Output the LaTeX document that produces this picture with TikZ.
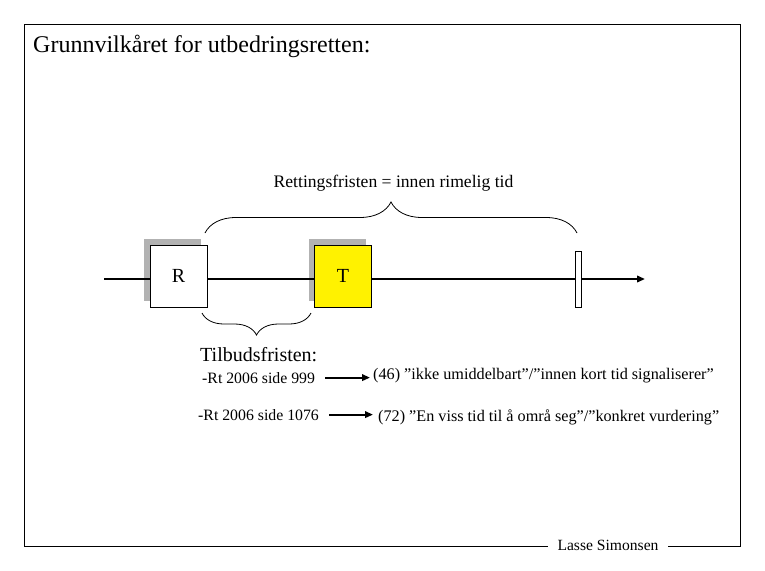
\documentclass[tikz,border=0pt]{standalone}
\usepackage{fontspec}
\setmainfont{Liberation Serif}
\usetikzlibrary{positioning,arrows.meta,decorations.pathreplacing}

\begin{document}
\begin{tikzpicture}[x=1pt, y=-1pt,
txt/.style={inner sep=0pt, anchor=base west},
box/.style={draw=black, line width=0.8pt, minimum width=57pt, minimum height=62pt, inner sep=0pt, font=\fontsize{20}{24}\selectfont},
shadow/.style={fill=black, fill opacity=0.3, minimum width=57pt, minimum height=62pt, inner sep=0pt},
arrow/.style={-{Triangle[length=8pt, width=6.5pt]}, line width=2pt},
bracket/.style={decorate, decoration={brace, amplitude=#1}, line width=0.8pt}
]
\useasboundingbox (0,0) rectangle (765,570);
\draw[line width=0.8pt] (24,24) rectangle (740,546);
\node[txt, font=\fontsize{24}{28}\selectfont] (title) at (33,52) {Grunnvilkåret for utbedringsretten:};

% tidslinje
\coordinate (start) at (104,279);
\coordinate (slutt) at (645,279);
\draw[arrow, line width=2.5pt] (start) -- (slutt);

\node[shadow] (rskygge) at (172.5,270) {};
\node[shadow] (tskygge) at (337,270) {};
\node[box, fill=white] (R) at ([shift={(6,6)}]rskygge) {R};
\node[box, fill=yellow] (T) at ([shift={(6,6)}]tskygge) {T};
\node[draw, fill=white, line width=0.8pt, minimum width=6pt, minimum height=56pt, inner sep=0pt] (frist) at (578.7,279) {};

% klammer
\coordinate (ra) at (205,233);
\coordinate (rb) at (577,233);
\draw[bracket=31pt] (ra) -- (rb);
\node[anchor=base, inner sep=0pt, font=\fontsize{17.6}{20}\selectfont] (rett) at (393.5,187) {Rettingsfristen = innen rimelig tid};

\coordinate (ta) at (311,313);
\coordinate (tb) at (202,313);
\draw[bracket=22pt] (ta) -- (tb);
\node[txt, font=\fontsize{20}{24}\selectfont] (tilbud) at (200,361) {Tilbudsfristen:};

% dommer
\node[txt, font=\fontsize{15.8}{18}\selectfont] (rt999) at (202,383) {-Rt 2006 side 999};
\node[txt, font=\fontsize{15.8}{18}\selectfont] (rt1076) at (198,420) {-Rt 2006 side 1076};
\node[txt, font=\fontsize{16.2}{19}\selectfont] (q46) at (373,379) {(46) ”ikke umiddelbart”/”innen kort tid signaliserer”};
\node[txt, font=\fontsize{16.2}{19}\selectfont] (q72) at (378,421) {(72) ”En viss tid til å områ seg”/”konkret vurdering”};
\draw[arrow] ([xshift=10pt]rt999.east) -- ([xshift=-3pt]q46.west |- rt999.east);
\draw[arrow] ([xshift=10pt]rt1076.east) -- ([xshift=-5pt]q72.west |- rt1076.east);

\node[anchor=base, fill=white, inner xsep=10pt, inner ysep=3pt, font=\fontsize{15.6}{18}\selectfont] (navn) at (608,550) {Lasse Simonsen};
\end{tikzpicture}
\end{document}
